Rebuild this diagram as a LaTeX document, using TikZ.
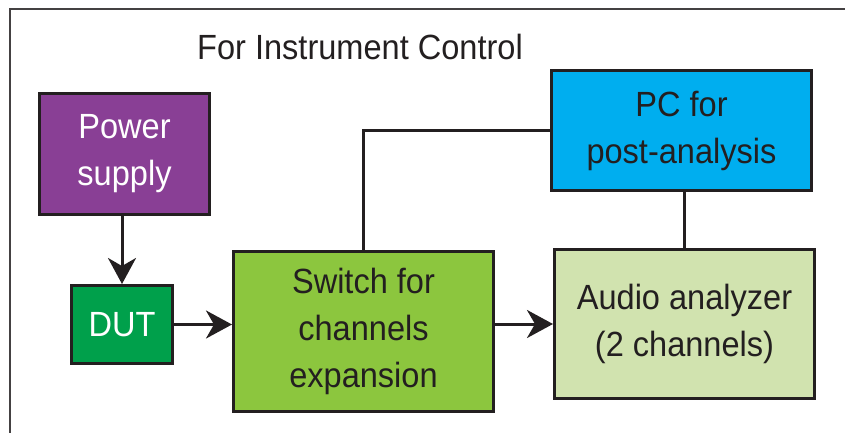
\documentclass[tikz,border=0pt]{standalone}
\usepackage{fontspec}
\setmainfont[FakeStretch=0.93]{Liberation Sans}
\usetikzlibrary{arrows.meta}
\definecolor{ink}{HTML}{231F20}
\definecolor{powerpurple}{HTML}{893F95}
\definecolor{dutgreen}{HTML}{00A04B}
\definecolor{switchgreen}{HTML}{8CC63E}
\definecolor{pcblue}{HTML}{00AEEF}
\definecolor{audiogreen}{HTML}{D1E3AF}
\begin{document}
\begin{tikzpicture}[x=1pt, y=-1pt, >={Stealth[length=26pt,width=28pt,inset=8pt]},
  box/.style={draw=ink, line width=3pt, align=center, inner sep=0pt, text=ink,
    font=\fontsize{35}{47}\selectfont},
  link/.style={draw=ink, line width=3pt}]
\useasboundingbox (0,0) rectangle (845,432);
\draw [ink!85, line width=1.5pt] (10,440) |- (850,9);

\node [anchor=base west, inner sep=0pt, text=ink, font=\fontsize{35}{47}\selectfont] (title) at (197,59) {For Instrument Control};

\node [box, fill=powerpurple, text=white, minimum width=170pt, minimum height=121pt] (power) at (124.5,154) {Power\\supply};
\node [box, fill=dutgreen, text=white, minimum width=101pt, minimum height=78pt] (dut) at (122,324.5) {DUT};
\node [box, fill=switchgreen, minimum width=260pt, minimum height=160pt] (switch) at (363.5,331.5) {Switch for\\channels\\expansion};
\node [box, fill=pcblue, minimum width=260pt, minimum height=120pt] (pc) at (681.5,130.5) {PC for\\post-analysis};
\node [box, fill=audiogreen, minimum width=260pt, minimum height=149pt] (audio) at (684.5,324) {Audio analyzer\\(2 channels)};

\draw [link, ->] (dut.north |- power.south) -- (dut.north);
\draw [link, ->] (dut.east) -- (dut.east -| switch.west);
\draw [link, ->] (switch.east |- audio.west) -- (audio.west);
\draw [link] (switch.north) |- (pc.west);
\draw [link] (audio.north) -- (audio.north |- pc.south);

\end{tikzpicture}
\end{document}
